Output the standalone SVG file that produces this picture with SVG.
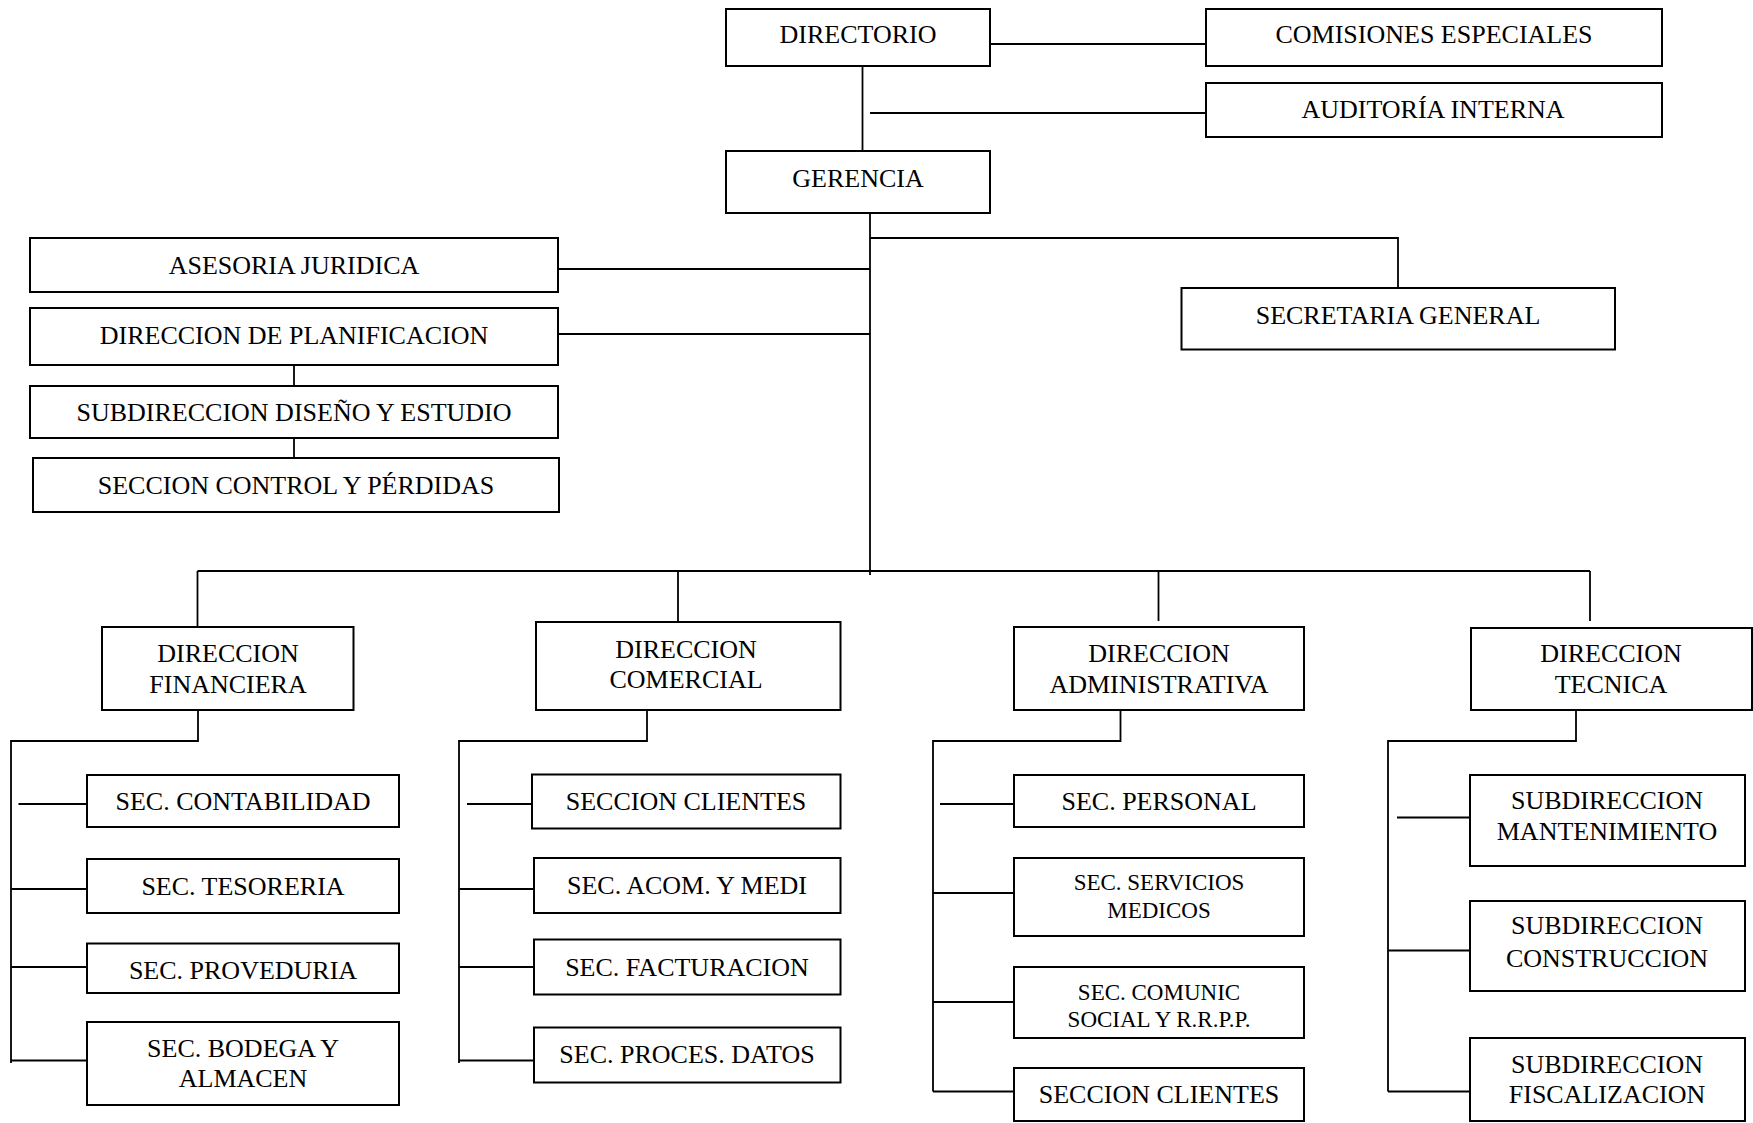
<svg xmlns="http://www.w3.org/2000/svg" width="1753" height="1123" viewBox="0 0 1753 1123">
<style>
.box{fill:#fff;stroke:#000;stroke-width:2}
.t{font-family:"Liberation Serif","Times New Roman",serif;font-size:26px;fill:#000;text-anchor:middle}
.s{font-size:23px}
.c{fill:none;stroke:#000;stroke-width:1.8}
</style>
<rect width="1753" height="1123" fill="#fff"/>
<g id="connectors">
<path class="c" d="M990,44H1206"/>
<path class="c" d="M862.5,66V151"/>
<path class="c" d="M870,113H1206"/>
<path class="c" d="M870,213V575"/>
<path class="c" d="M870,238H1398V288"/>
<path class="c" d="M558,269H870"/>
<path class="c" d="M558,334H870"/>
<path class="c" d="M294,362V386"/>
<path class="c" d="M294,433V458"/>
<path class="c" d="M197.5,571H1590"/>
<path class="c" d="M197.5,571V627"/>
<path class="c" d="M678,571V622"/>
<path class="c" d="M1158.5,571V621"/>
<path class="c" d="M1590,571V621"/>
<path class="c" d="M198,710V741H11V1063"/>
<path class="c" d="M18.5,804H87"/>
<path class="c" d="M11,889H87"/>
<path class="c" d="M11,967H87"/>
<path class="c" d="M11,1060.5H87"/>
<path class="c" d="M647,710V741H459V1063"/>
<path class="c" d="M467,804H532"/>
<path class="c" d="M459,889H534"/>
<path class="c" d="M459,967H534"/>
<path class="c" d="M459,1060.5H534"/>
<path class="c" d="M1120.5,710V741H933V1091.5"/>
<path class="c" d="M940,804H1014"/>
<path class="c" d="M933,893H1014"/>
<path class="c" d="M933,1002H1014"/>
<path class="c" d="M933,1091.5H1014"/>
<path class="c" d="M1576,710V741H1388V1091.5"/>
<path class="c" d="M1397,817.5H1470"/>
<path class="c" d="M1388,950.5H1470"/>
<path class="c" d="M1388,1091.5H1470"/>
</g>
<g id="directorio"><rect class="box" x="726" y="9" width="264" height="57"/><text class="t" x="858" y="43">DIRECTORIO</text></g>
<g id="comisiones"><rect class="box" x="1206" y="9" width="456" height="57"/><text class="t" x="1434" y="43">COMISIONES ESPECIALES</text></g>
<g id="auditoria"><rect class="box" x="1206" y="83" width="456" height="54"/><text class="t" x="1433" y="118">AUDITORÍA INTERNA</text></g>
<g id="gerencia"><rect class="box" x="726" y="151" width="264" height="62"/><text class="t" x="858" y="187">GERENCIA</text></g>
<g id="asesoria"><rect class="box" x="30" y="238" width="528" height="54"/><text class="t" x="294" y="274">ASESORIA JURIDICA</text></g>
<g id="planificacion"><rect class="box" x="30" y="308" width="528" height="57"/><text class="t" x="294" y="344">DIRECCION DE PLANIFICACION</text></g>
<g id="diseno"><rect class="box" x="30" y="386" width="528" height="52"/><text class="t" x="294" y="421">SUBDIRECCION DISEÑO Y ESTUDIO</text></g>
<g id="control"><rect class="box" x="33" y="458" width="526" height="54"/><text class="t" x="296" y="494">SECCION CONTROL Y PÉRDIDAS</text></g>
<g id="secretaria"><rect class="box" x="1181.5" y="288" width="433.5" height="61.5"/><text class="t" x="1398" y="324">SECRETARIA GENERAL</text></g>
<g id="financiera"><rect class="box" x="102" y="627" width="251.5" height="83"/><text class="t" x="228" y="662">DIRECCION</text><text class="t" x="228" y="693">FINANCIERA</text></g>
<g id="comercial"><rect class="box" x="536" y="622" width="304.5" height="88"/><text class="t" x="686" y="658">DIRECCION</text><text class="t" x="686" y="688">COMERCIAL</text></g>
<g id="administrativa"><rect class="box" x="1014" y="627" width="290" height="83"/><text class="t" x="1159" y="662">DIRECCION</text><text class="t" x="1159" y="693">ADMINISTRATIVA</text></g>
<g id="tecnica"><rect class="box" x="1471" y="628" width="281" height="82"/><text class="t" x="1611" y="662">DIRECCION</text><text class="t" x="1611" y="693">TECNICA</text></g>
<g id="contabilidad"><rect class="box" x="87" y="775" width="312" height="52"/><text class="t" x="243" y="810">SEC. CONTABILIDAD</text></g>
<g id="tesoreria"><rect class="box" x="87" y="859" width="312" height="54"/><text class="t" x="243" y="894.5">SEC. TESORERIA</text></g>
<g id="proveduria"><rect class="box" x="87" y="943.5" width="312" height="49.5"/><text class="t" x="243" y="978.5">SEC. PROVEDURIA</text></g>
<g id="bodega"><rect class="box" x="87" y="1022" width="312" height="83"/><text class="t" x="243" y="1057">SEC. BODEGA Y</text><text class="t" x="243" y="1086.5">ALMACEN</text></g>
<g id="clientes1"><rect class="box" x="532" y="774.5" width="308.5" height="54"/><text class="t" x="686" y="810">SECCION CLIENTES</text></g>
<g id="acom"><rect class="box" x="534" y="858" width="306.5" height="55"/><text class="t" x="687" y="894">SEC. ACOM. Y MEDI</text></g>
<g id="facturacion"><rect class="box" x="534" y="939.5" width="306.5" height="55"/><text class="t" x="687" y="976">SEC. FACTURACION</text></g>
<g id="datos"><rect class="box" x="534" y="1027.5" width="306.5" height="55"/><text class="t" x="687" y="1063">SEC. PROCES. DATOS</text></g>
<g id="personal"><rect class="box" x="1014" y="775" width="290" height="52"/><text class="t" x="1159" y="810">SEC. PERSONAL</text></g>
<g id="medicos"><rect class="box" x="1014" y="858" width="290" height="78"/><text class="t s" x="1159" y="890">SEC. SERVICIOS</text><text class="t s" x="1159" y="918">MEDICOS</text></g>
<g id="comunic"><rect class="box" x="1014" y="967" width="290" height="71"/><text class="t s" x="1159" y="999.5">SEC. COMUNIC</text><text class="t s" x="1159" y="1027">SOCIAL Y R.R.P.P.</text></g>
<g id="clientes2"><rect class="box" x="1014" y="1068" width="290" height="53"/><text class="t" x="1159" y="1103">SECCION CLIENTES</text></g>
<g id="mantenimiento"><rect class="box" x="1470" y="775" width="275" height="91"/><text class="t" x="1607" y="809">SUBDIRECCION</text><text class="t" x="1607" y="840">MANTENIMIENTO</text></g>
<g id="construccion"><rect class="box" x="1470" y="901" width="275" height="90"/><text class="t" x="1607" y="934">SUBDIRECCION</text><text class="t" x="1607" y="967">CONSTRUCCION</text></g>
<g id="fiscalizacion"><rect class="box" x="1470" y="1038" width="275" height="83"/><text class="t" x="1607" y="1073">SUBDIRECCION</text><text class="t" x="1607" y="1103">FISCALIZACION</text></g>
</svg>
